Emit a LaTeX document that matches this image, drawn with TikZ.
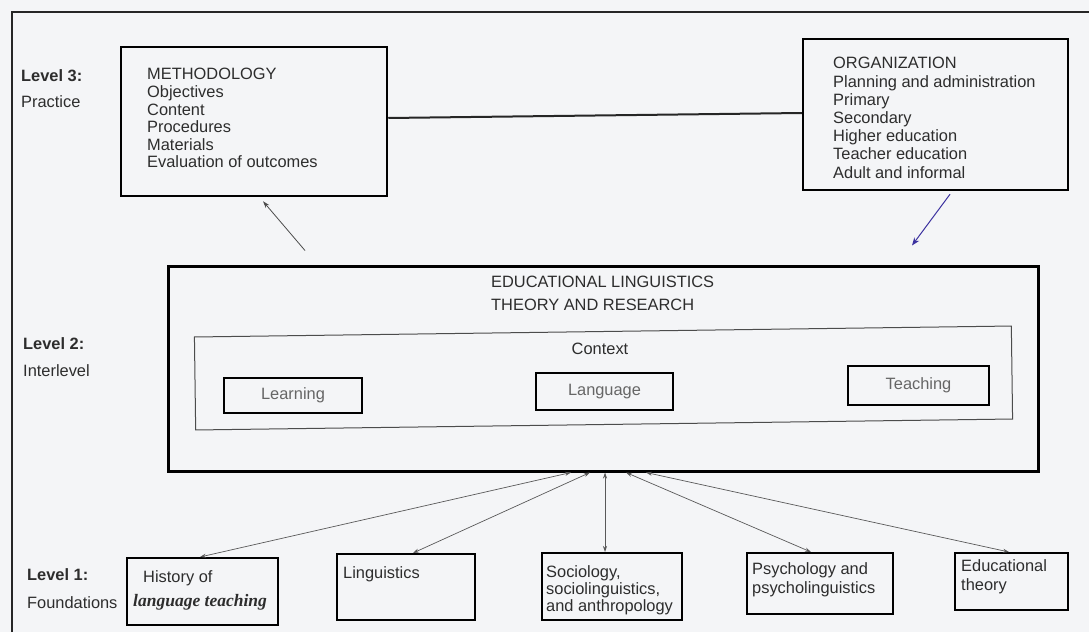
\documentclass[tikz,border=0pt]{standalone}
\usepackage{fontspec}
\setmainfont{Liberation Sans}
\newfontfamily\serifit{Liberation Serif}
\usetikzlibrary{arrows.meta}
\definecolor{bg}{RGB}{244,245,247}
\definecolor{blu}{RGB}{60,50,160}
\definecolor{ink}{RGB}{45,45,45}
\tikzset{
  box/.style={draw=black, line width=2pt, inner sep=0pt},
  txt/.style={inner sep=0pt, text=ink, align=left, anchor=north west},
  lvl/.style={inner sep=0pt, anchor=west, text=ink, font=\fontsize{16.4}{18}\selectfont\bfseries},
  sub/.style={inner sep=0pt, anchor=west, text=ink, font=\fontsize{16.4}{18}\selectfont},
  inbox/.style={draw=black, line width=1.8pt, inner sep=0pt, text=black!60, font=\fontsize{16.4}{18}\selectfont},
  link/.style={draw=black!65, line width=0.7pt, {Stealth[length=6pt,width=4pt]}-{Stealth[length=6pt,width=4pt]}},
}
\begin{document}
\begin{tikzpicture}[x=1pt,y=-1pt]
\fill[bg] (0,0) rectangle (1089,632);
\useasboundingbox (0,0) rectangle (1089,632);
\draw[line width=1.5pt, draw=black!85] (12,632) -- (12,12) -- (1089,12);

% Level labels
\node[lvl] (l3) at (21,76) {Level 3:};
\node[sub] (p3) at (21,102) {Practice};
\node[lvl] (l2) at (23,344) {Level 2:};
\node[sub] (p2) at (23,371) {Interlevel};
\node[lvl] (l1) at (27,575) {Level 1:};
\node[sub] (p1) at (27,603) {Foundations};

% Level 3 boxes
\node[box, line width=2.5pt, minimum width=266pt, minimum height=149pt] (meth) at (254,121.5) {};
\node[txt, font=\fontsize{16.4}{17.6}\selectfont] (methtxt) at (147,68.3)
  {METHODOLOGY\\Objectives\\Content\\Procedures\\Materials\\Evaluation of outcomes};
\node[box, line width=2.5pt, minimum width=265pt, minimum height=151pt] (org) at (935.5,114.5) {};
\node[txt, font=\fontsize{16.4}{18.2}\selectfont] (orgtxt) at (833,57.3)
  {ORGANIZATION\\Planning and administration\\Primary\\Secondary\\Higher education\\Teacher education\\Adult and informal};
\draw[line width=2pt, draw=black!85] ([yshift=3.5pt]meth.east) -- ([yshift=1.5pt]org.west);

% Level 2
\node[box, line width=3pt, minimum width=870pt, minimum height=205pt] (mid) at (603,368.5) {};
\node[txt, font=\fontsize{16.4}{23}\selectfont] (midtxt) at (491,276.3)
  {EDUCATIONAL LINGUISTICS\\THEORY AND RESEARCH};
\node[draw=black!70, line width=1pt, inner sep=0pt, minimum width=817pt, minimum height=93pt, rotate=0.77] (ctx) at (603.5,378) {};
\node[sub, anchor=center] (ctxtxt) at (600,349) {Context};
\node[inbox, minimum width=138pt, minimum height=35pt] (learn) at (293,395.5) {Learning};
\node[inbox, minimum width=137pt, minimum height=37pt] (lang) at (604.5,391.5) {Language};
\node[inbox, minimum width=141pt, minimum height=39pt] (teach) at (918.5,385.5) {Teaching};

\draw[draw=black!70, line width=0.8pt, -{Stealth[length=7pt,width=4.5pt]}]
  ([xshift=-298pt,yshift=14pt]mid.north) -- ([xshift=9pt,yshift=-4pt]meth.south);
\draw[blu, line width=1pt, -{Stealth[length=8pt,width=6pt]}]
  ([xshift=14.5pt,yshift=-3pt]org.south) -- ([xshift=309pt,yshift=19pt]mid.north);

% Level 1 boxes
\node[box, minimum width=151pt, minimum height=67pt] (hist) at (202.5,591.5) {};
\node[box, minimum width=138pt, minimum height=66pt] (ling) at (406,587) {};
\node[box, minimum width=140pt, minimum height=67pt] (soc) at (612,586.5) {};
\node[box, minimum width=146pt, minimum height=61pt] (psy) at (820,583.5) {};
\node[box, minimum width=113pt, minimum height=57pt] (edu) at (1011.5,581.5) {};

\node[txt, font=\fontsize{16.4}{24}\selectfont] (histtxt) at (133,570)
  {\hspace{10pt}History of\\{\serifit\bfseries\itshape\fontsize{17.5}{24}\selectfont language teaching}};
\node[sub] (lingtxt) at (343,574) {Linguistics};
\node[txt, font=\fontsize{16.4}{17}\selectfont] (soctxt) at (546,565.1)
  {Sociology,\\sociolinguistics,\\and anthropology};
\node[txt, font=\fontsize{16.4}{19}\selectfont] (psytxt) at (752,562)
  {Psychology and\\psycholinguistics};
\node[txt, font=\fontsize{16.4}{19.5}\selectfont] (edutxt) at (961,559)
  {Educational\\theory};

\draw[link] ([xshift=-2.5pt]hist.north) -- ([xshift=-32pt]mid.south);
\draw[link] ([xshift=7pt]ling.north) -- ([xshift=-13pt]mid.south);
\draw[link] ([xshift=-7pt]soc.north) -- ([xshift=2pt]mid.south);
\draw[link] ([xshift=-9pt]psy.north) -- ([xshift=23pt]mid.south);
\draw[link] ([xshift=-2.5pt]edu.north) -- ([xshift=43pt]mid.south);
\end{tikzpicture}
\end{document}
